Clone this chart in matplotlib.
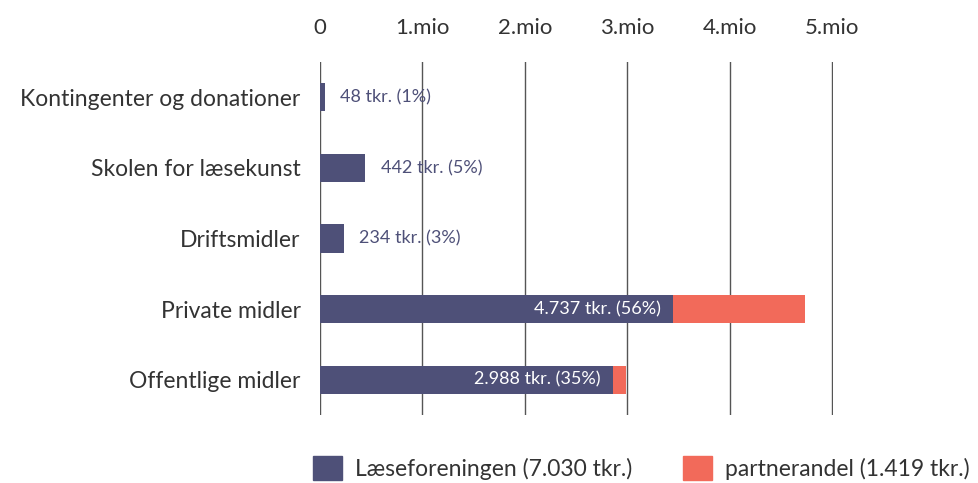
import matplotlib.pyplot as plt
from matplotlib.patches import Patch

# ----------------------------
# data (tkr.)
# ----------------------------
categories = ["Kontingenter og donationer", "Skolen for læsekunst", "Driftsmidler",
              "Private midler", "Offentlige midler"]
laeseforeningen = [48, 442, 234, 3448, 2858]
partnerandel = [0, 0, 0, 1289, 130]
totals = [48, 442, 234, 4737, 2988]
percents = [1, 5, 3, 56, 35]
inside_label = [False, False, False, True, True]

xticks = [0, 1000, 2000, 3000, 4000, 5000]
xtick_labels = ["0", "1.mio", "2.mio", "3.mio", "4.mio", "5.mio"]

legend_labels = ["Læseforeningen (7.030 tkr.)", "partnerandel (1.419 tkr.)"]

DARK = "#4e5078"
CORAL = "#f26a5a"
TEXT = "#333333"

plt.rcParams["font.family"] = ["Lato", "DejaVu Sans"]

fig = plt.figure(figsize=(9.79, 4.83), dpi=100)
ax = fig.add_axes([320 / 979, 1 - 415 / 483, (833 - 320) / 979, (415 - 62) / 483])

y = list(range(len(categories)))
ax.barh(y, laeseforeningen, height=0.4, color=DARK, zorder=3)
ax.barh(y, partnerandel, left=laeseforeningen, height=0.4, color=CORAL, zorder=3)

# value labels
for i, (val, tot, pct) in enumerate(zip(laeseforeningen, totals, percents)):
    txt = f"{tot:,} tkr. ({pct}%)".replace(",", ".")
    if inside_label[i]:
        ax.annotate(txt, (val, i), xytext=(-9, 0), textcoords="offset points",
                    ha="right", va="center", color="white", fontsize=13, zorder=4)
    else:
        ax.annotate(txt, (val, i), xytext=(11, 0), textcoords="offset points",
                    ha="left", va="center", color=DARK, fontsize=13, zorder=4)

ax.set_xlim(0, 5010)
ax.set_ylim(4.5, -0.5)
ax.set_xticks(xticks)
ax.set_xticklabels(xtick_labels)
ax.xaxis.tick_top()
ax.set_yticks(y)
ax.set_yticklabels(categories)
ax.tick_params(axis="x", length=0, pad=17, labelsize=16, labelcolor=TEXT)
ax.tick_params(axis="y", length=0, pad=14, labelsize=16.5, labelcolor=TEXT)
ax.grid(axis="x", color="#555555", linewidth=1, zorder=0)
ax.grid(axis="y", visible=False)
for s in ax.spines.values():
    s.set_visible(False)

handles = [Patch(color=DARK), Patch(color=CORAL)]
fig.legend(handles, legend_labels, loc="center left", bbox_to_anchor=(313 / 979, 0.031),
           ncol=2, frameon=False, fontsize=16.5, handlelength=1.25, handleheight=1.25,
           handletextpad=0.6, columnspacing=2.2, borderpad=0, borderaxespad=0,
           labelcolor=TEXT)

fig.savefig("out.png", dpi=100)
